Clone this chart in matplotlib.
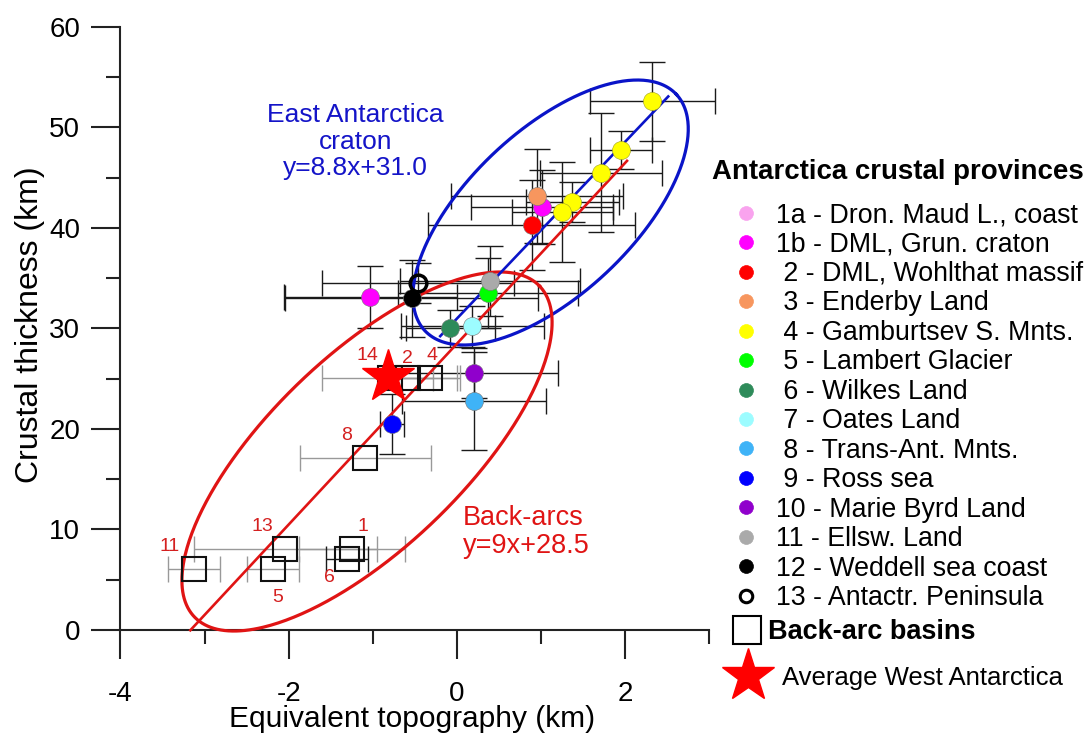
import numpy as np
import matplotlib
matplotlib.use("Agg")
import matplotlib.pyplot as plt
from matplotlib.lines import Line2D
from matplotlib import font_manager

# --- Antarctic crustal provinces (circles with error bars) ---
prov_id = ["2", "1b", "3", "4", "4", "4", "4", "4", "1b", "12", "13", "5", "11", "6", "7", "10", "8", "9"]
prov_x = [0.89, 1.01, 0.95, 2.32, 1.95, 1.71, 1.37, 1.25, -1.03, -0.54, -0.46, 0.37, 0.39, -0.08, 0.18, 0.20, 0.20, -0.77]
prov_y = [40.3, 42.1, 43.2, 52.6, 47.8, 45.5, 42.6, 41.6, 33.1, 33.0, 34.5, 33.5, 34.7, 30.0, 30.2, 25.6, 22.8, 20.5]
prov_xerr = [1.23, 0.84, 1.02, 0.74, 0.37, 0.72, 0.55, 0.60, 1.03, 1.50, 1.14, 1.07, 1.07, 0.53, 0.85, 1.00, 0.86, 0.14]
prov_yerr = [4.5, 3.7, 4.7, 3.9, 1.9, 5.9, 2.0, 5.0, 3.1, 3.8, 2.0, 3.5, 3.5, 1.8, 2.0, 2.5, 4.9, 3.0]

legend_ids = ["1a", "1b", "2", "3", "4", "5", "6", "7", "8", "9", "10", "11", "12", "13"]
legend_labels = ["1a - Dron. Maud L., coast", "1b - DML, Grun. craton",
                 " 2 - DML, Wohlthat massif", " 3 - Enderby Land",
                 " 4 - Gamburtsev S. Mnts.", " 5 - Lambert Glacier",
                 " 6 - Wilkes Land", " 7 - Oates Land", " 8 - Trans-Ant. Mnts.",
                 " 9 - Ross sea", "10 - Marie Byrd Land", "11 - Ellsw. Land",
                 "12 - Weddell sea coast", "13 - Antactr. Peninsula"]
legend_colors = ["#f9a3ee", "#ff00ff", "#ff0000", "#f7965e", "#ffff00", "#00ff00",
                 "#2e8b5a", "#9cfcff", "#3fb3f7", "#0000ff", "#9000cc", "#aaaaaa",
                 "#000000", "#ffffff"]

# --- Back-arc basins (open squares) ---
basin_id = ["14", "2", "4", "8", "11", "13", "1", "5", "6"]
basin_x = [-0.80, -0.58, -0.32, -1.09, -3.13, -2.04, -1.25, -2.19, -1.31]
basin_y = [25.1, 25.1, 25.1, 17.1, 6.1, 8.05, 8.05, 6.1, 7.1]
basin_xerr = [0.80, 0.30, 0.35, 0.78, 0.31, 1.09, 0.63, 0.31, 0.25]
basin_lab_x = [-1.07, -0.59, -0.30, -1.31, -3.42, -2.31, -1.12, -2.13, -1.52]
basin_lab_y = [27.3, 27.0, 27.3, 19.4, 8.26, 10.25, 10.25, 3.28, 5.27]

# average West Antarctica
star_x = [-0.82]
star_y = [25.2]

# regressions: slope, intercept, x-range
east_fit = (8.8, 31.0, -0.2, 2.51)
back_fit = (9.0, 28.5, -3.17, 2.02)

# ellipses: centre and two conjugate semi-axis vectors (data units)
east_ell = (1.112, 41.54, 1.493, 11.77, -0.669, 5.94)
back_ell = (-1.07, 17.76, 2.051, 16.46, -0.795, 6.94)

names = {f.name for f in font_manager.fontManager.ttflist}
narrow = "Liberation Sans Narrow" if "Liberation Sans Narrow" in names else "Liberation Sans"
plt.rcParams["font.family"] = ["Liberation Sans", "DejaVu Sans"]
plt.rcParams["axes.unicode_minus"] = False

color_of = dict(zip(legend_ids, legend_colors))

fig = plt.figure(figsize=(10.88, 7.36), dpi=100)
ax = fig.add_axes([0.07978, 0.13037, 0.58004, 0.84660])
ax.set_xlim(-4.4, 3.1)
ax.set_ylim(-1, 61)

# ellipses
t = np.linspace(0, 2 * np.pi, 400)
for (cx, cy, ux, uy, vx, vy), col in [(east_ell, "#0a14c8"), (back_ell, "#e01414")]:
    ax.plot(cx + ux * np.cos(t) + vx * np.sin(t), cy + uy * np.cos(t) + vy * np.sin(t),
            color=col, lw=2.3, zorder=4)

# regression lines
for (m, b, x0, x1), col in [(back_fit, "#e01414"), (east_fit, "#0a14c8")]:
    xs = np.array([x0, x1])
    ax.plot(xs, m * xs + b, color=col, lw=1.9, zorder=4)

# error bars
ax.errorbar(prov_x, prov_y, xerr=prov_xerr, yerr=prov_yerr, fmt="none",
            ecolor="#1a1a1a", elinewidth=1.0, capsize=9.5, capthick=1.0, zorder=2)
bar_cols = ["#1a1a1a" if b == "6" else "#999999" for b in basin_id]
for x, y, xe, c in zip(basin_x, basin_y, basin_xerr, bar_cols):
    ax.errorbar(x, y, xerr=xe, fmt="none", ecolor=c, elinewidth=1.0,
                capsize=9.5, capthick=1.0, zorder=2)

# province points
for pid, x, y in zip(prov_id, prov_x, prov_y):
    if pid == "13":
        ax.plot(x, y, "o", ms=12, mfc="none", mec="black", mew=2.5, zorder=6)
    else:
        ec = "#a0a020" if pid == "4" else "#777777"
        ax.plot(x, y, "o", ms=13, mfc=color_of[pid], mec=ec, mew=0.4, zorder=5)

# back-arc squares and labels
ax.plot(basin_x, basin_y, "s", ms=17, mfc="none", mec="#111111", mew=1.5, zorder=5)
for lab, lx, ly in zip(basin_id, basin_lab_x, basin_lab_y):
    ax.text(lx, ly, lab, color="#d42020", fontsize=14, ha="center", va="center", zorder=7)

ax.plot(star_x, star_y, "*", ms=40, color="#ff0000", mec="#ff0000", zorder=7)

ax.text(-1.21, 48.6, "East Antarctica\ncraton\ny=8.8x+31.0", color="#1414c8",
        fontsize=19, ha="center", va="center", linespacing=1.12)
ax.text(0.07, 9.75, "Back-arcs\ny=9x+28.5", color="#e01414", fontsize=19.5,
        ha="left", va="center", linespacing=1.12)

# axes styling
for s in ["top", "right"]:
    ax.spines[s].set_visible(False)
ax.spines["left"].set_position(("data", -4))
ax.spines["bottom"].set_position(("data", 0))
ax.spines["left"].set_bounds(0, 60)
ax.spines["bottom"].set_bounds(-4, 3)
for s in ["left", "bottom"]:
    ax.spines[s].set_linewidth(1.5)
    ax.spines[s].set_color("#222222")
ax.set_xticks([-4, -2, 0, 2])
ax.set_xticks([-3, -1, 1, 3], minor=True)
ax.set_yticks(range(0, 61, 10))
ax.set_yticks(range(5, 60, 10), minor=True)
ax.tick_params(which="major", direction="out", length=21, width=1.5, color="#222222",
               labelsize=20)
ax.tick_params(which="minor", direction="out", length=10, width=1.5, color="#222222")
ax.tick_params(axis="x", pad=16)
ax.tick_params(axis="y", pad=8)
for lbl in ax.get_xticklabels() + ax.get_yticklabels():
    lbl.set_family(narrow)

ax.set_xlabel("Equivalent topography (km)", fontsize=21.5, family=narrow)
ax.set_ylabel("Crustal thickness (km)", fontsize=23, family=narrow)
ax.xaxis.set_label_coords(0.515, -0.105)
ax.yaxis.set_label_coords(-0.066, 0.506)

# legend
handles = []
for lid, col in zip(legend_ids, legend_colors):
    if lid == "13":
        handles.append(Line2D([], [], ls="none", marker="o", ms=9, mfc="white", mec="black", mew=2.2))
    else:
        handles.append(Line2D([], [], ls="none", marker="o", ms=10, mfc=col, mec=col, mew=0.5))
fig.text(712 / 1088, 1 - 172 / 736, "Antarctica crustal provinces", fontsize=19.9,
         fontweight="bold", ha="left", va="center")
leg1 = fig.legend(handles, legend_labels, loc="upper left",
                  bbox_to_anchor=(738 / 1088, 1 - 202 / 736), frameon=False,
                  fontsize=19.3, handlelength=0.6, handletextpad=0.82,
                  labelspacing=0.13, borderpad=0, borderaxespad=0)

sq = Line2D([], [], ls="none", marker="s", ms=20, mfc="none", mec="black", mew=1.5)
leg2 = fig.legend([sq], ["Back-arc basins"], loc="center left",
                  bbox_to_anchor=(733 / 1088, 1 - 632 / 736), frameon=False,
                  handlelength=1.05, handletextpad=0.25, borderpad=0, borderaxespad=0,
                  prop={"size": 19.5, "weight": "bold"})
st = Line2D([], [], ls="none", marker="*", ms=40, color="#ff0000")
leg3 = fig.legend([st], ["Average West Antarctica"], loc="center left",
                  bbox_to_anchor=(722 / 1088, 1 - 678 / 736), frameon=False,
                  fontsize=18.5, handlelength=2.0, handletextpad=0.35,
                  borderpad=0, borderaxespad=0)

fig.savefig("out.png", dpi=100)
